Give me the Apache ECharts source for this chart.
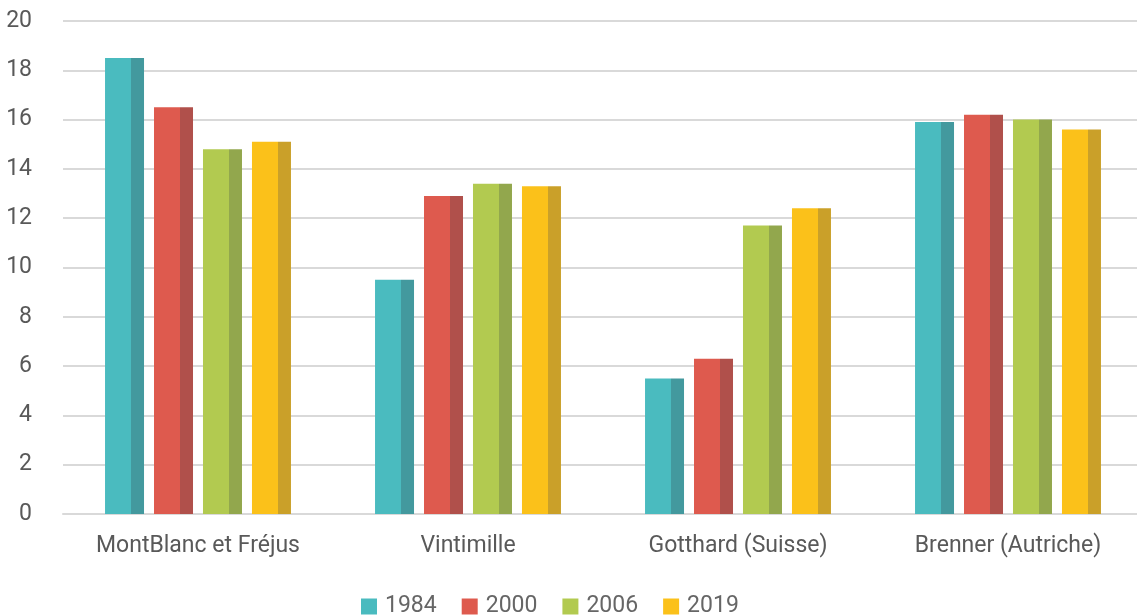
<!DOCTYPE html>
<html><head><meta charset="utf-8">
<script src="https://cdn.jsdelivr.net/npm/echarts@6/dist/echarts.min.js"></script>
<style>html,body{margin:0;padding:0;background:#fff}#c{width:1137px;height:616px}</style>
</head><body><div id="c"></div>
<script>
const categories = ['MontBlanc et Fréjus', 'Vintimille', 'Gotthard (Suisse)', 'Brenner (Autriche)'];
const years = ['1984', '2000', '2006', '2019'];
const v1984 = [18.5, 9.5, 5.5, 15.9];
const v2000 = [16.5, 12.9, 6.3, 16.2];
const v2006 = [14.8, 13.4, 11.7, 16.0];
const v2019 = [15.1, 13.3, 12.4, 15.6];
const yTicks = [0, 2, 4, 6, 8, 10, 12, 14, 16, 18, 20];

const lightColors = ['#4ABBBF', '#DE5A4E', '#B2CA50', '#FBC11A'];
const darkColors = ['#43999E', '#B0504B', '#92A74D', '#CAA029'];
const seriesData = [v1984, v2000, v2006, v2019];

function grad(i) {
  return new echarts.graphic.LinearGradient(0, 0, 1, 0, [
    {offset: 0, color: lightColors[i]},
    {offset: 0.665, color: lightColors[i]},
    {offset: 0.665, color: darkColors[i]},
    {offset: 1, color: darkColors[i]}
  ]);
}

const chart = echarts.init(document.getElementById('c'));
chart.setOption({
  animation: false,
  textStyle: {fontFamily: 'Roboto'},
  grid: {left: 63, width: 1080, top: 21, height: 493, containLabel: false, outerBoundsMode: 'none'},
  legend: {
    top: 595, left: 361, padding: 0,
    itemWidth: 16, itemHeight: 16, itemGap: 25,
    icon: 'rect',
    textStyle: {fontSize: 23, color: '#666', fontFamily: 'Roboto', padding: [0, 0, 0, 3]},
    data: years.map((y, i) => ({name: y, itemStyle: {color: lightColors[i]}}))
  },
  xAxis: {
    type: 'category', data: categories,
    axisLine: {lineStyle: {color: '#d9d9d9', width: 2}},
    axisTick: {show: false},
    axisLabel: {fontSize: 23, color: '#595959', margin: 21}
  },
  yAxis: {
    type: 'value', min: 0, max: 20, interval: 2,
    axisLine: {show: false}, axisTick: {show: false},
    axisLabel: {fontSize: 23, color: '#595959', margin: 31,
      formatter: v => yTicks.includes(v) ? String(v) : ''},
    splitLine: {lineStyle: {color: '#d9d9d9', width: 2}}
  },
  series: years.map((y, i) => ({
    name: y, type: 'bar', data: seriesData[i],
    barWidth: 39, barGap: '25.6%',
    itemStyle: {color: grad(i)}
  }))
});
</script></body></html>
